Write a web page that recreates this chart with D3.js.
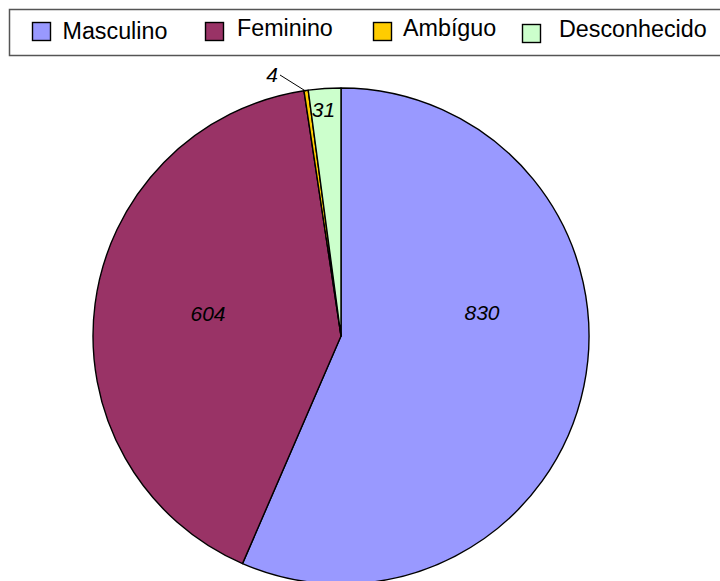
<!DOCTYPE html>
<html>
<head>
<meta charset="utf-8">
<script src="https://cdn.jsdelivr.net/npm/d3@7"></script>
<style>
html,body{margin:0;padding:0;background:#fff;}
svg{display:block;font-family:"Liberation Sans",Arial,Helvetica,sans-serif;}
</style>
</head>
<body>
<svg id="chart" width="720" height="581"></svg>
<script>
const categories = ["Masculino", "Feminino", "Ambíguo", "Desconhecido"];
const values = [830, 604, 4, 31];
const colors = ["#9999FF", "#993366", "#FFCC00", "#CCFFCC"];

// layout (not data)
const cx = 341, cy = 336, R = 248;
// label baseline offsets relative to pie centre, per slice
const labelOffsets = [[141, -16], [-133, -15], [-69, -254], [-17.5, -219]];

const svg = d3.select("#chart");

const pie = d3.pie().value(d => d).sort(null);
const arcs = pie(values);
const arc = d3.arc().innerRadius(0).outerRadius(R);

const g = svg.append("g").attr("transform", `translate(${cx},${cy})`);

g.selectAll("path.slice")
  .data(arcs)
  .enter().append("path")
  .attr("class", "slice")
  .attr("d", arc)
  .attr("fill", (d, i) => colors[i])
  .attr("stroke", "#000")
  .attr("stroke-width", 1.4)
  .attr("stroke-linejoin", "round");

// leader line for tiny slice (Ambíguo)
const small = arcs[2];
const midA = (small.startAngle + small.endAngle) / 2;
const p0 = [Math.sin(midA) * (R - 1), -Math.cos(midA) * (R - 1)];
g.append("line")
  .attr("x1", p0[0]).attr("y1", p0[1])
  .attr("x2", labelOffsets[2][0] + 8).attr("y2", labelOffsets[2][1] - 7)
  .attr("stroke", "#000").attr("stroke-width", 1);

g.selectAll("text.lbl")
  .data(arcs)
  .enter().append("text")
  .attr("class", "lbl")
  .attr("x", (d, i) => labelOffsets[i][0])
  .attr("y", (d, i) => labelOffsets[i][1])
  .attr("text-anchor", "middle")
  .attr("font-style", "italic")
  .attr("font-size", 21)
  .text(d => d.data);

// legend
const legend = svg.append("g");
legend.append("rect")
  .attr("x", 9.5).attr("y", 9.5).attr("width", 740).attr("height", 46)
  .attr("fill", "#fff").attr("stroke", "#555").attr("stroke-width", 1.5);

const swatchX = [32, 205, 373, 522];
const swatchY = [22, 22, 22, 24];
const textX = [62.5, 237, 403, 559];
const textY = [39, 36, 36, 36.5];
categories.forEach((c, i) => {
  legend.append("rect")
    .attr("x", swatchX[i] + 0.5).attr("y", swatchY[i] + 0.5)
    .attr("width", 18).attr("height", 18)
    .attr("fill", colors[i]).attr("stroke", "#000").attr("stroke-width", 1.4);
  legend.append("text")
    .attr("x", textX[i]).attr("y", textY[i])
    .attr("font-size", 23.3)
    .text(c);
});
</script>
</body>
</html>
